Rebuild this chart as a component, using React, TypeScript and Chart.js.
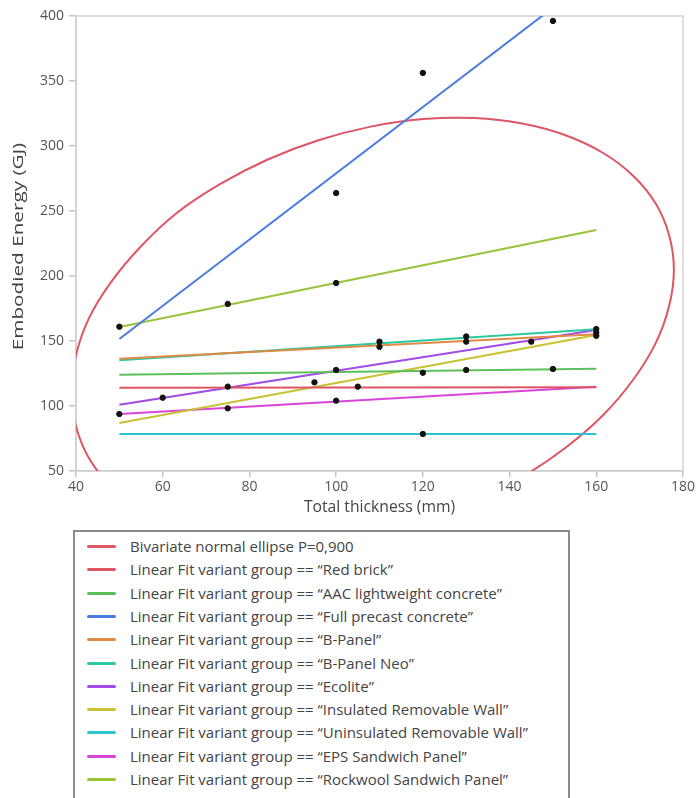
import React, { useEffect, useRef } from "react";
import { Chart, registerables } from "chart.js";

Chart.register(...registerables);

// ---------- data ----------
const xTitle = "Total thickness (mm)";
const yTitle = "Embodied Energy (GJ)";
const xMin = 40, xMax = 180, xStep = 20;
const yMin = 50, yMax = 400, yStep = 50;

const ellipseLabel = "Bivariate normal ellipse P=0,900";
const ellipseX = [84.1, 95.9, 108.0, 120.1, 131.9, 143.0, 152.9, 161.6, 168.5, 173.7, 176.8, 177.9, 176.8, 173.7, 168.5, 161.5, 152.9, 142.9, 131.9, 120.1, 108.0, 95.9, 84.1, 73.1, 63.1, 55.0, 48.2, 43.0, 40.0, 39.0, 40.0, 42.9, 47.9, 54.7, 63.1, 73.1, 84.1];
const ellipseY = [-5.5, -4.7, 1.1, 11.6, 26.6, 45.6, 67.9, 93.1, 120.2, 148.4, 176.9, 204.9, 231.4, 255.7, 277.1, 294.8, 308.3, 317.3, 321.5, 320.7, 314.9, 304.4, 289.4, 270.4, 248.1, 222.9, 195.8, 167.6, 139.1, 111.1, 84.6, 60.3, 39.0, 21.2, 7.7, -1.3, -5.5];

const groupNames = [
  "Red brick",
  "AAC lightweight concrete",
  "Full precast concrete",
  "B-Panel",
  "B-Panel Neo",
  "Ecolite",
  "Insulated Removable Wall",
  "Uninsulated Removable Wall",
  "EPS Sandwich Panel",
  "Rockwool Sandwich Panel",
];
const fitX = [50, 160];
const fitStartY = [114.0, 124.0, 151.5, 136.4, 135.2, 101.0, 87.0, 78.5, 93.8, 160.8];
const fitEndY = [114.5, 128.7, 431.9, 155.2, 159.0, 158.5, 154.6, 78.5, 114.9, 235.4];

const pointX = [50, 50, 60, 75, 75, 75, 95, 100, 100, 100, 100, 105, 110, 110, 120, 120, 120, 130, 130, 130, 145, 150, 150, 160, 160, 160];
const pointY = [161.0, 93.8, 106.4, 178.5, 114.9, 98.2, 118.2, 263.8, 194.6, 127.7, 104.1, 114.9, 149.5, 145.5, 356.2, 125.6, 78.5, 153.5, 149.5, 127.7, 149.5, 396.2, 128.5, 159.2, 156.4, 154.0];

// ---------- styles ----------
const ellipseColor = "#de5565";
const groupColors = ["#de5565", "#5cbf5c", "#4a7be0", "#e08a45", "#2cc8a0", "#a24be6", "#c8c232", "#2cc4d0", "#d845d8", "#98c43a"];
const FONT = "'Open Sans', 'Noto Sans', sans-serif";

const borderPlugin = {
  id: "plotBorder",
  beforeDatasetsDraw(chart: any) {
    const { ctx, chartArea } = chart;
    ctx.save();
    ctx.strokeStyle = "#d4d4d4";
    ctx.lineWidth = 1.5;
    ctx.strokeRect(chartArea.left, chartArea.top, chartArea.right - chartArea.left, chartArea.bottom - chartArea.top);
    ctx.restore();
  },
};

// y-axis title, drawn stretched along its length like the reference
const yTitlePlugin = {
  id: "yTitleStretched",
  afterDraw(chart: any) {
    const { ctx, chartArea } = chart;
    ctx.save();
    ctx.translate(19, (chartArea.top + chartArea.bottom) / 2 + 3);
    ctx.rotate(-Math.PI / 2);
    ctx.scale(1.38, 1);
    ctx.font = `15px ${FONT}`;
    ctx.fillStyle = "#444";
    ctx.textAlign = "center";
    ctx.textBaseline = "middle";
    ctx.fillText(yTitle, 0, 0);
    ctx.restore();
  },
};

function App() {
  const ref = useRef<HTMLCanvasElement | null>(null);

  useEffect(() => {
    if (!ref.current) return;
    const datasets: any[] = [];
    datasets.push({
      label: "points",
      data: pointX.map((x, i) => ({ x, y: pointY[i] })),
      backgroundColor: "#111",
      borderColor: "#111",
      pointRadius: 2.7,
      showLine: false,
    });
    groupNames.forEach((g, i) => {
      datasets.push({
        label: `Linear Fit variant group == “${g}”`,
        data: [
          { x: fitX[0], y: fitStartY[i] },
          { x: fitX[1], y: fitEndY[i] },
        ],
        borderColor: groupColors[i],
        backgroundColor: groupColors[i],
        borderWidth: 2,
        pointRadius: 0,
        showLine: true,
      });
    });
    datasets.push({
      label: ellipseLabel,
      data: ellipseX.map((x, i) => ({ x, y: ellipseY[i] })),
      borderColor: ellipseColor,
      backgroundColor: ellipseColor,
      borderWidth: 2,
      pointRadius: 0,
      showLine: true,
      tension: 0.4,
      capBezierPoints: false,
    });

    const chart = new Chart(ref.current, {
      type: "scatter",
      data: { datasets },
      options: {
        animation: false,
        responsive: false,
        elements: { line: { capBezierPoints: false } },
        layout: { padding: { top: 16, right: 14, left: 0, bottom: 0 } },
        plugins: { legend: { display: false }, tooltip: { enabled: false } },
        scales: {
          x: {
            type: "linear",
            min: xMin,
            max: xMax,
            afterFit: (s: any) => { s.height = 54; },
            ticks: { stepSize: xStep, color: "#555", font: { family: FONT, size: 14 }, padding: 2, maxRotation: 0 },
            grid: { drawOnChartArea: false, drawTicks: true, tickLength: 6, color: "#c4c4c4", lineWidth: 1.5 },
            border: { display: true, color: "#c4c4c4", width: 1.5 },
            title: { display: true, text: xTitle, color: "#444", font: { family: FONT, size: 15.7 }, padding: { top: 0, bottom: 8 } },
          },
          y: {
            type: "linear",
            min: yMin,
            max: yMax,
            afterFit: (s: any) => { s.width = 76; },
            ticks: { stepSize: yStep, color: "#555", font: { family: FONT, size: 14 }, padding: 5 },
            grid: { drawOnChartArea: false, drawTicks: true, tickLength: 7, color: "#c4c4c4", lineWidth: 1.5 },
            border: { display: true, color: "#c4c4c4", width: 1.5 },
            title: { display: false, text: yTitle },
          },
        },
      },
      plugins: [borderPlugin, yTitlePlugin],
    });
    return () => chart.destroy();
  }, []);

  const legendItems = [
    { label: ellipseLabel, color: ellipseColor },
    ...groupNames.map((g, i) => ({ label: `Linear Fit variant group == “${g}”`, color: groupColors[i] })),
  ];

  return (
    <div style={{ position: "absolute", left: 0, top: 0, width: 697, height: 798, overflow: "hidden", background: "#fff" }}>
      <canvas ref={ref} width={697} height={525} style={{ position: "absolute", left: 0, top: 0, width: 697, height: 525 }} />
      <div
        style={{
          position: "absolute",
          left: 73,
          top: 530,
          width: 497,
          height: 300,
          border: "2px solid #8a8a8a",
          boxSizing: "border-box",
          fontFamily: FONT,
          fontSize: 15,
          color: "#444",
        }}
      >
        {legendItems.map((it, i) => (
          <div key={i} style={{ position: "absolute", left: 0, top: 3 + i * 23.3, height: 23.3, width: "100%" }}>
            <span style={{ position: "absolute", left: 12, top: 10, width: 29, height: 3, borderRadius: 2, background: it.color }} />
            <span style={{ position: "absolute", left: 55, top: 0, lineHeight: "23px", whiteSpace: "nowrap" }}>{it.label}</span>
          </div>
        ))}
      </div>
    </div>
  );
}

export default App;
